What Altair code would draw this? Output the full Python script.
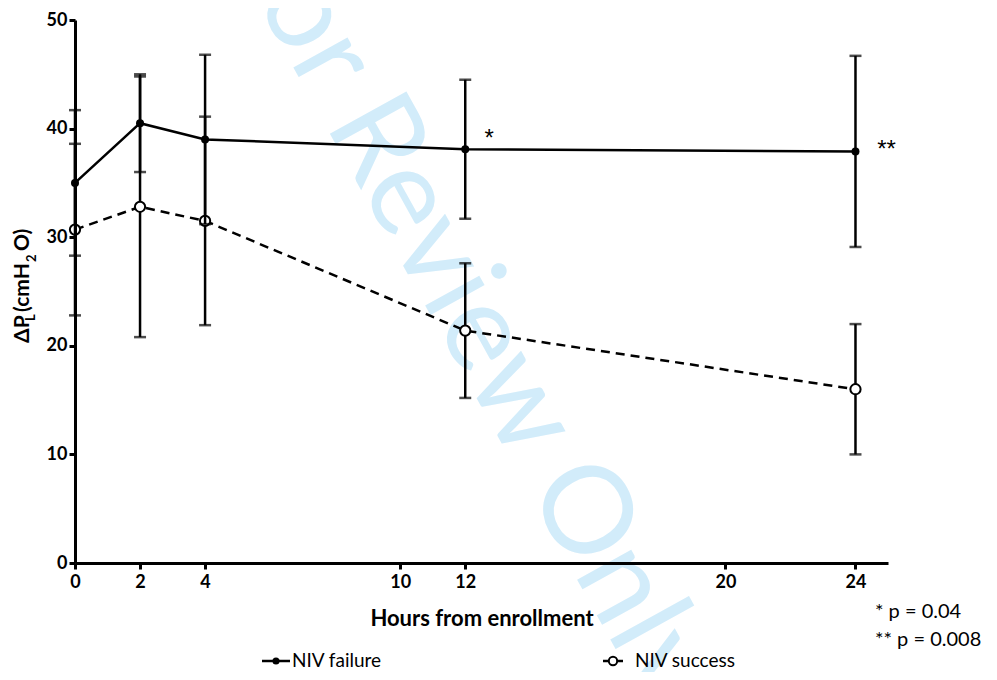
import altair as alt
import pandas as pd

# ---- data ----
hours = [0, 2, 4, 12, 24]
fail_mean = [35.0, 40.5, 39.0, 38.1, 37.9]
fail_err = [6.7, 4.5, 7.8, 6.4, 8.8]
succ_mean = [30.7, 32.8, 31.5, 21.4, 16.0]
succ_err = [7.9, 12.0, 9.6, 6.2, 6.0]
series = ["NIV failure", "NIV success"]
x_ticks = [0, 2, 4, 10, 12, 20, 24]
y_ticks = [0, 10, 20, 30, 40, 50]
sig_hours = [12, 24]
sig_marks = ["*", "**"]
p_notes = ["* p = 0.04", "** p = 0.008"]
x_title = "Hours from enrollment"
y_title_parts = ["ΔP", "L", " (cmH", "2", "O)"]
watermark = "For Review Only"

FONT = "Lato"

fail = pd.DataFrame({
    "h": hours, "m": fail_mean,
    "lo": [m - e for m, e in zip(fail_mean, fail_err)],
    "hi": [m + e for m, e in zip(fail_mean, fail_err)],
})
succ = pd.DataFrame({
    "h": hours, "m": succ_mean,
    "lo": [m - e for m, e in zip(succ_mean, succ_err)],
    "hi": [m + e for m, e in zip(succ_mean, succ_err)],
})
sig = pd.DataFrame({
    "h": sig_hours,
    "m": [fail_mean[hours.index(h)] for h in sig_hours],
    "t": sig_marks,
})

xs = alt.Scale(domain=[0, 25], nice=False, zero=False)
ys = alt.Scale(domain=[0, 50], nice=False)

x_axis = alt.Axis(values=x_ticks, format="d", labelFont=FONT, labelFontWeight="bold",
                  labelFontSize=18, labelColor="black", tickColor="black", tickWidth=3,
                  tickSize=6, domainColor="black", domainWidth=3, grid=False,
                  title=x_title, titleFont=FONT, titleFontSize=22, titleFontWeight="bold",
                  titleColor="black", titlePadding=17, labelPadding=4, zindex=1,
                  labelFlush=False)
y_axis = alt.Axis(values=y_ticks, format="d", labelFont=FONT, labelFontWeight="bold",
                  labelFontSize=18, labelColor="black", tickColor="black", tickWidth=3,
                  tickSize=6, domainColor="black", domainWidth=3, grid=False,
                  title=None, labelPadding=2, zindex=1)

X = alt.X("h:Q", scale=xs, axis=x_axis, title=x_title)
Y = alt.Y("m:Q", scale=ys, axis=y_axis, title=None)
YLO = alt.Y("lo:Q", scale=ys, axis=y_axis, title=None)
YHI = alt.Y("hi:Q", scale=ys, axis=y_axis, title=None)


def series_layers(df, dashed, open_pt):
    base = alt.Chart(df)
    bars = base.mark_rule(color="black", strokeWidth=2.5).encode(x=X, y=YLO, y2="hi:Q")
    cap_lo = base.mark_tick(orient="horizontal", size=12, thickness=2.5, color="black").encode(x=X, y=YLO)
    cap_hi = base.mark_tick(orient="horizontal", size=12, thickness=2.5, color="black").encode(x=X, y=YHI)
    line_kw = dict(color="black", strokeWidth=2.5)
    if dashed:
        line_kw["strokeDash"] = [9, 6]
    line = base.mark_line(**line_kw).encode(x=X, y=Y)
    if open_pt:
        pts = base.mark_point(shape="circle", filled=True, fill="white", stroke="black",
                              strokeWidth=2, size=105, opacity=1).encode(x=X, y=Y)
    else:
        pts = base.mark_point(shape="circle", filled=True, color="black", size=64,
                              opacity=1).encode(x=X, y=Y)
    return [bars, cap_lo, cap_hi, line, pts]


wm = alt.Chart(pd.DataFrame({"t": [watermark]})).mark_text(
    angle=61, fontSize=122, color="#d2ecfa", font=FONT, align="center", baseline="middle"
).encode(x=alt.value(395), y=alt.value(290), text="t:N")

layers = [wm]
layers += series_layers(succ, dashed=True, open_pt=True)
layers += series_layers(fail, dashed=False, open_pt=False)

sig1 = alt.Chart(sig.iloc[[0]]).mark_text(fontSize=24, font="Liberation Sans", color="black",
                                          align="center", baseline="alphabetic", dx=24, dy=-3
                                          ).encode(x=X, y=Y, text="t:N")
sig2 = alt.Chart(sig.iloc[[1]]).mark_text(fontSize=24, font="Liberation Sans", color="black",
                                          align="center", baseline="alphabetic", dx=31, dy=6
                                          ).encode(x=X, y=Y, text="t:N")
layers += [sig1, sig2]

# p-value notes
for note, py in zip(p_notes, [592, 620]):
    layers.append(alt.Chart(pd.DataFrame({"t": [note]})).mark_text(
        fontSize=20, font=FONT, color="black", align="left", baseline="middle"
    ).encode(x=alt.value(800), y=alt.value(py), text="t:N"))

# y-axis title pieces (rotated, with subscripts)
yt_specs = [
    (y_title_parts[0], -52, 323, 21),
    (y_title_parts[1], -44, 301, 13),
    (y_title_parts[2], -52, 292, 21),
    (y_title_parts[3], -43.5, 242, 13),
    (y_title_parts[4], -52, 231, 21),
]
for txt, px, py, fs in yt_specs:
    layers.append(alt.Chart(pd.DataFrame({"t": [txt]})).mark_text(
        angle=270, fontSize=fs, font=FONT, fontWeight="bold", color="black",
        align="left", baseline="middle"
    ).encode(x=alt.value(px), y=alt.value(py), text="t:N"))

# legend
leg_y = 641
leg = [
    (series[0], 187, 215, 201, False, 217),
    (series[1], 528, 548, 538, True, 560),
]
for name, lx1, lx2, px, open_pt, tx in leg:
    layers.append(alt.Chart(pd.DataFrame({"t": [name]})).mark_rule(
        color="black", strokeWidth=2.5
    ).encode(x=alt.value(lx1), x2=alt.value(lx2), y=alt.value(leg_y)))
    if open_pt:
        layers.append(alt.Chart(pd.DataFrame({"t": [name]})).mark_point(
            shape="circle", filled=True, fill="white", stroke="black", strokeWidth=2,
            size=70, opacity=1).encode(x=alt.value(px), y=alt.value(leg_y)))
    else:
        layers.append(alt.Chart(pd.DataFrame({"t": [name]})).mark_point(
            shape="circle", filled=True, color="black", size=50, opacity=1
        ).encode(x=alt.value(px), y=alt.value(leg_y)))
    layers.append(alt.Chart(pd.DataFrame({"t": [name]})).mark_text(
        fontSize=19, font=FONT, color="black", align="left", baseline="middle"
    ).encode(x=alt.value(tx), y=alt.value(leg_y), text="t:N"))

chart = alt.layer(*layers).properties(
    width=813, height=543,
    autosize=alt.AutoSizeParams(type="none"),
    padding={"left": 67, "top": 12, "right": 101, "bottom": 109},
).configure_view(stroke=None)

chart.save("out.html", embed_options={"renderer": "svg", "actions": False})
